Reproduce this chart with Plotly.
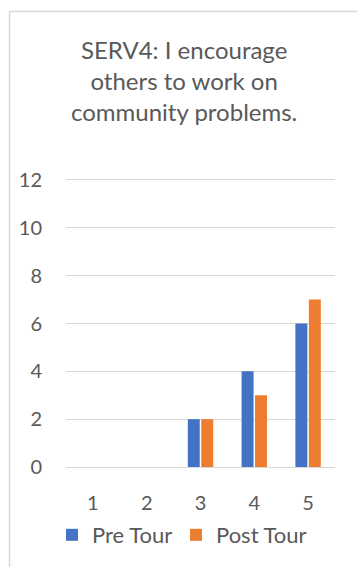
import plotly.graph_objects as go

# Survey responses (Likert scale 1-5) before and after the tour
categories = ["1", "2", "3", "4", "5"]
pre_tour = [0, 0, 2, 4, 6]
post_tour = [0, 0, 2, 3, 7]
y_ticks = [0, 2, 4, 6, 8, 10, 12]

W, H = 357, 567
# a small padding keeps the 0 and 12 gridlines from being clipped at the edges
pad_units = 1 / 12
L, R, T, B = 66, 22, 178, 97
pw, ph = W - L - R, H - T - B

def px(x):
    return (x - L) / pw

def py(y):
    return (H - B - y) / ph

text_color = "#595959"
font_family = "Lato, Carlito, Calibri, sans-serif"

fig = go.Figure()
fig.add_trace(go.Bar(x=categories, y=pre_tour, name="Pre Tour", legend="legend",
                     marker=dict(color="#4472C4", line=dict(width=0))))
fig.add_trace(go.Bar(x=categories, y=post_tour, name="Post Tour", legend="legend2",
                     marker=dict(color="#ED7D31", line=dict(width=0))))

legend_style = dict(
    orientation="h",
    xanchor="left",
    y=py(535),
    yanchor="middle",
    font=dict(size=22, color=text_color),
    itemwidth=30,
    bgcolor="rgba(0,0,0,0)",
)

fig.update_layout(
    width=W,
    height=H,
    margin=dict(l=L, r=R, t=T, b=B, pad=0),
    paper_bgcolor="white",
    plot_bgcolor="white",
    barmode="group",
    bargap=0.5,
    bargroupgap=0.11,
    font=dict(family=font_family, color=text_color, size=20),
    showlegend=True,
    legend=dict(x=px(52), **legend_style),
    legend2=dict(x=px(176), **legend_style),
    xaxis=dict(
        type="category",
        showgrid=False,
        showline=False,
        ticks="",
        tickfont=dict(size=20, color=text_color),
        ticklabelstandoff=20,
    ),
    yaxis=dict(
        range=[-pad_units, 12 + pad_units],
        tickvals=y_ticks,
        showgrid=True,
        gridcolor="#D9D9D9",
        gridwidth=1,
        zeroline=False,
        showline=False,
        ticks="",
        tickfont=dict(size=20, color=text_color),
        ticklabelstandoff=23,
    ),
    annotations=[
        dict(
            text="SERV4: I encourage<br>others to work on<br>community problems.",
            x=px(184),
            y=py(80),
            xref="paper",
            yref="paper",
            xanchor="center",
            yanchor="middle",
            showarrow=False,
            align="center",
            font=dict(size=24, color=text_color, family=font_family),
        )
    ],
    shapes=[
        # chart frame (left and top edges)
        dict(type="line", xref="paper", yref="paper", x0=px(9.5), x1=px(W + 5), y0=py(11), y1=py(11),
             line=dict(color="#D9D9D9", width=1.5)),
        dict(type="line", xref="paper", yref="paper", x0=px(9.5), x1=px(9.5), y0=py(11), y1=py(H + 5),
             line=dict(color="#D9D9D9", width=1.5)),
    ],
)

fig.write_html("out.html")
